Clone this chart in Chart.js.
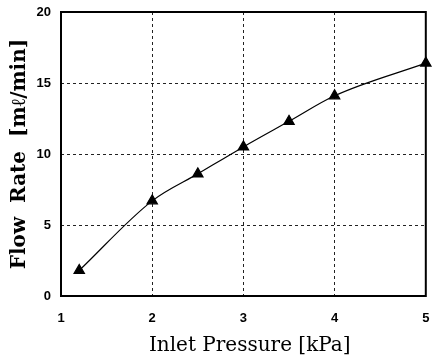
<!DOCTYPE html>
<html>
<head>
<meta charset="utf-8">
<script src="https://cdn.jsdelivr.net/npm/chart.js@4"></script>
<style>
  html, body { margin: 0; padding: 0; background: #fff; }
  #wrap { width: 433px; height: 356px; }
</style>
</head>
<body>
<div id="wrap"><canvas id="flowChart" width="433" height="356"></canvas></div>
<script>
// data
const inletPressure = [1.2, 2, 2.5, 3, 3.5, 4, 5];
const flowRate = [1.8, 6.7, 8.6, 10.5, 12.3, 14.1, 16.4];
const xTicks = [1, 2, 3, 4, 5];
const yTicks = [0, 5, 10, 15, 20];

// solid frame round the plot area
const frame = {
    id: 'frame',
    beforeDatasetsDraw(chart) {
        const a = chart.chartArea;
        const ctx = chart.ctx;
        ctx.save();
        ctx.strokeStyle = '#000';
        ctx.lineWidth = 2;
        ctx.strokeRect(a.left, a.top, a.right - a.left, a.bottom - a.top);
        ctx.restore();
    }
};

const edgeless = (ticks) => (c) => {
    const v = c.tick ? c.tick.value : null;
    return (v === ticks[0] || v === ticks[ticks.length - 1]) ? 'rgba(0,0,0,0)' : '#222';
};

const ctx = document.getElementById('flowChart').getContext('2d');
const chart = new Chart(ctx, {
    type: 'line',
    data: {
        datasets: [{
            data: inletPressure.map((x, i) => ({ x: x, y: flowRate[i] })),
            borderColor: '#000',
            borderWidth: 1.2,
            backgroundColor: '#000',
            pointStyle: 'triangle',
            pointRadius: 6,
            pointBackgroundColor: '#000',
            pointBorderColor: '#000',
            cubicInterpolationMode: 'monotone',
            clip: false,
            fill: false
        }]
    },
    options: {
        responsive: false,
        animation: false,
        layout: { padding: { top: 12, right: 4, left: 0, bottom: 0 } },
        plugins: { legend: { display: false }, tooltip: { enabled: false } },
        scales: {
            x: {
                type: 'linear',
                min: 1, max: 5,
                afterBuildTicks: (s) => { s.ticks = xTicks.map(v => ({ value: v })); },
                afterFit: (s) => { s.height = 60; s.paddingLeft = 0; s.paddingRight = 0; },
                grid: { color: edgeless(xTicks), lineWidth: 1, drawTicks: false },
                border: { display: false, dash: [3, 3] },
                ticks: { color: '#000', padding: 15, maxRotation: 0, font: { family: 'Liberation Sans', size: 13, weight: 'bold' } },
                title: {
                    display: true,
                    text: '  Inlet Pressure [kPa]',
                    color: '#000',
                    padding: { top: 0, bottom: -2 },
                    font: { family: 'DejaVu Serif', size: 20 }
                }
            },
            y: {
                min: 0, max: 20,
                afterBuildTicks: (s) => { s.ticks = yTicks.map(v => ({ value: v })); },
                afterFit: (s) => { s.width = 61; s.paddingTop = 0; s.paddingBottom = 0; },
                grid: { color: edgeless(yTicks), lineWidth: 1, drawTicks: false },
                border: { display: false, dash: [3, 3] },
                ticks: { color: '#000', padding: 10, font: { family: 'Liberation Sans', size: 13, weight: 'bold' } },
                title: {
                    display: true,
                    text: 'Flow  Rate  [mℓ/min]',
                    color: '#000',
                    padding: { top: 8, bottom: 0 },
                    font: { family: 'DejaVu Serif', size: 20, weight: 'bold' }
                }
            }
        }
    },
    plugins: [frame]
});
</script>
</body>
</html>
